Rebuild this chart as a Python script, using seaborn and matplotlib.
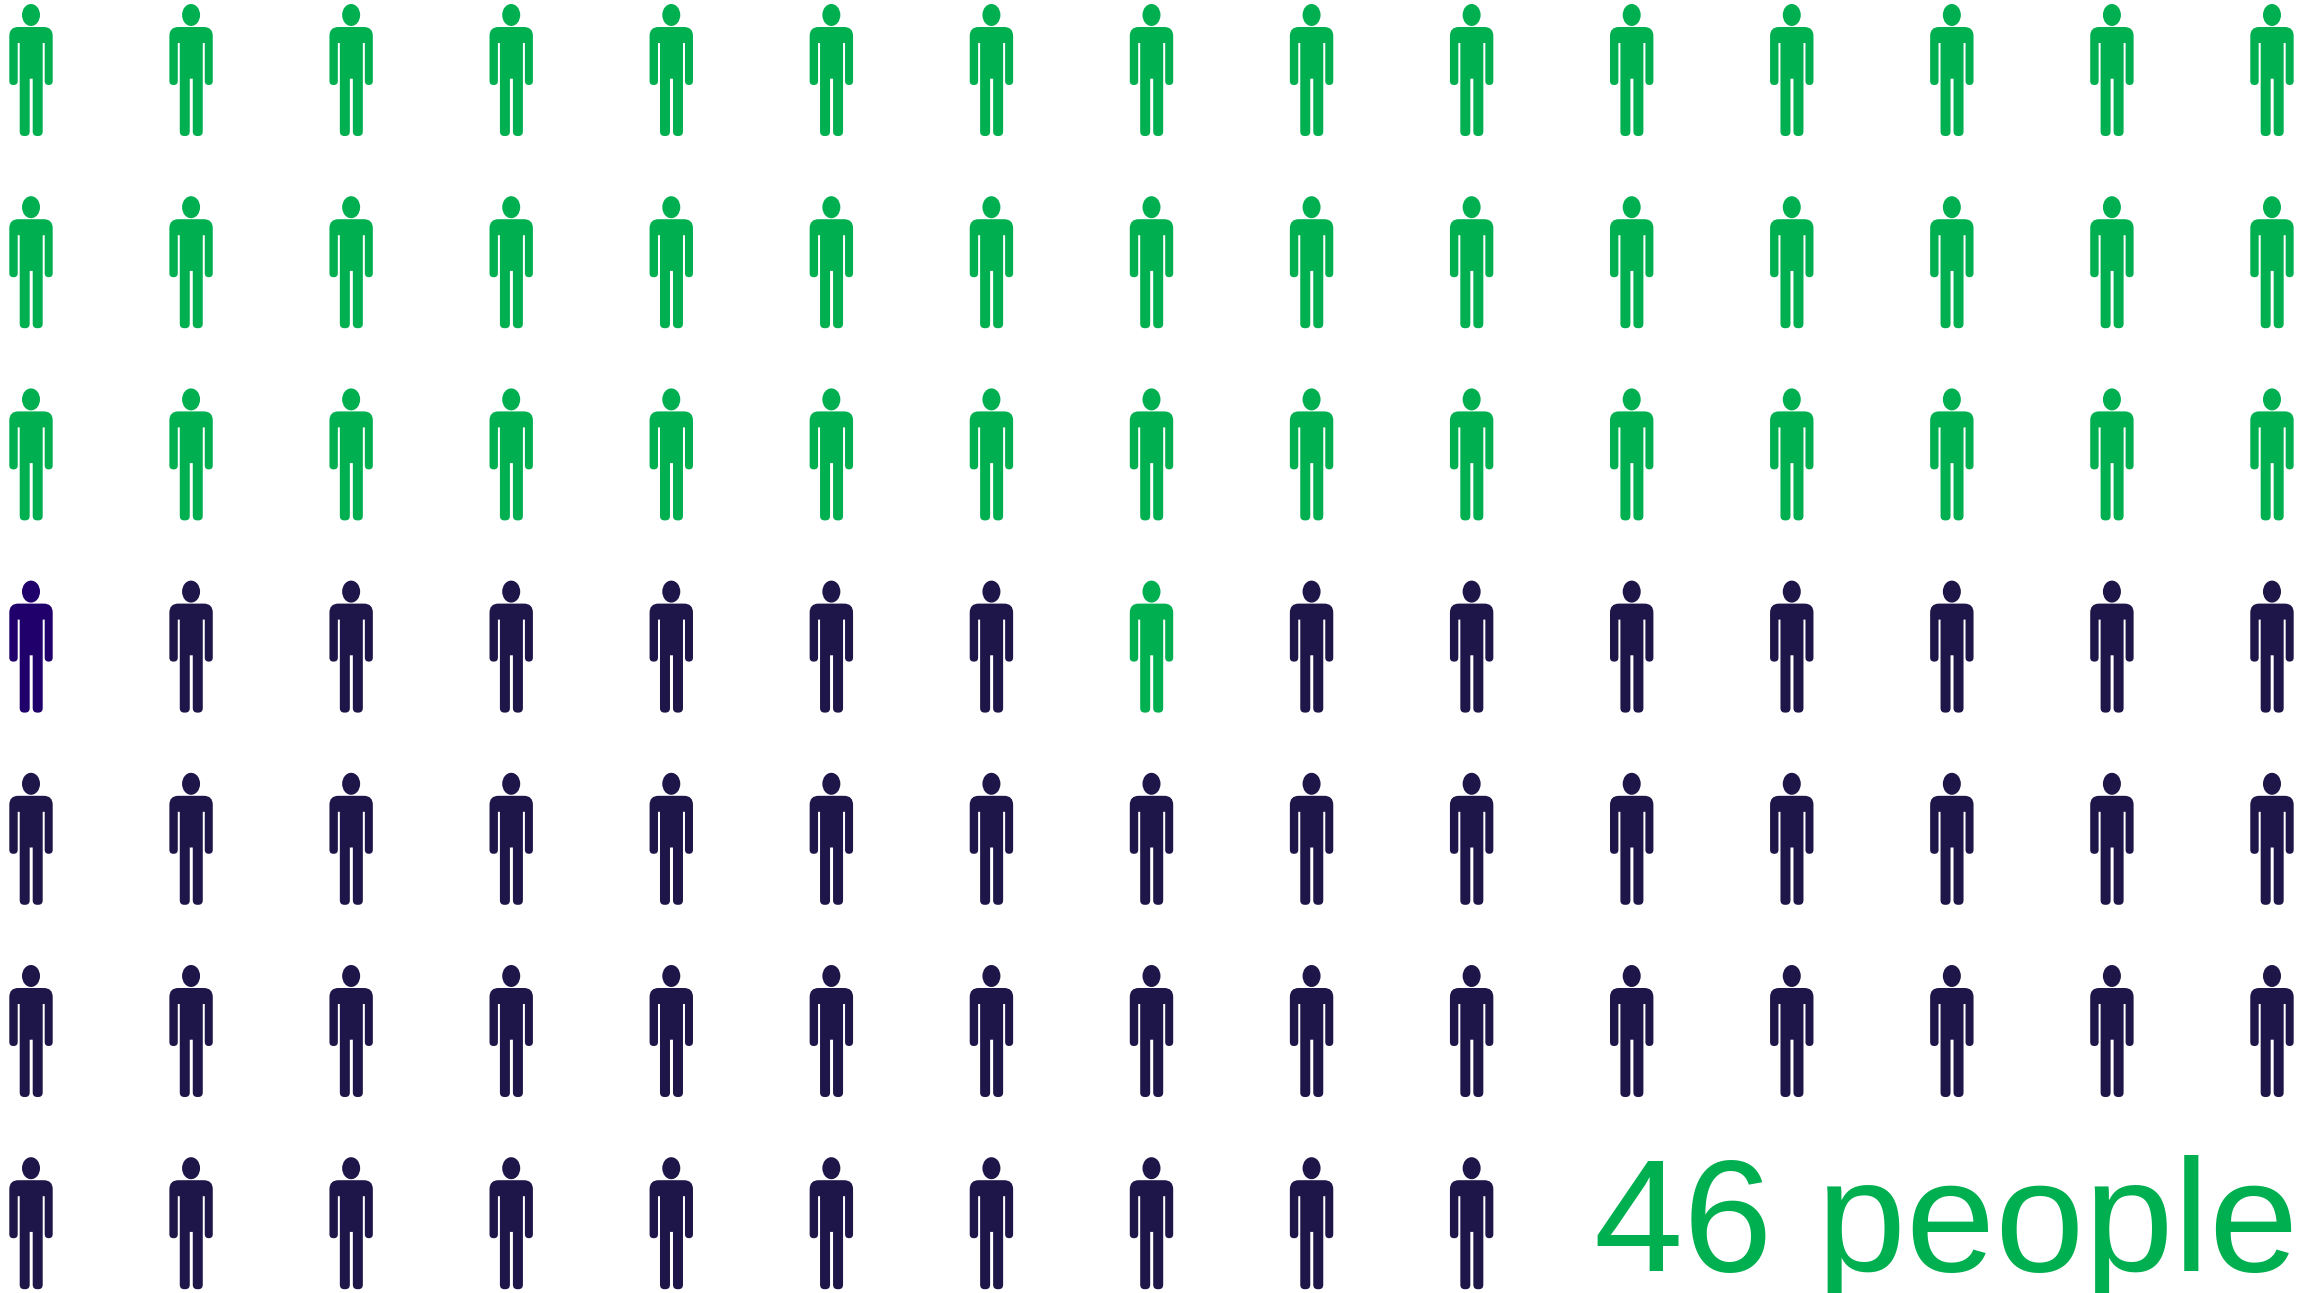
import numpy as np
import pandas as pd
import matplotlib
matplotlib.use("Agg")
import matplotlib.pyplot as plt
from matplotlib.path import Path
from matplotlib.transforms import Affine2D
import seaborn as sns

# data: group of each person, row by row (G = counted, N = others, H = highlighted)
row_1 = list("GGGGGGGGGGGGGGG")
row_2 = list("GGGGGGGGGGGGGGG")
row_3 = list("GGGGGGGGGGGGGGG")
row_4 = list("HNNNNNNGNNNNNNN")
row_5 = list("NNNNNNNNNNNNNNN")
row_6 = list("NNNNNNNNNNNNNNN")
row_7 = list("NNNNNNNNNN")
annotation = "46 people"

GROUP_COLORS = {"G": "#00B050", "N": "#1E1548", "H": "#20006B"}

W, H, DPI = 2320, 1293, 100
COL_STEP, ROW_STEP = 160.07, 192.2
X0, Y0 = 31.0, 70.0


def rounded(points):
    """Closed polygon with per-vertex corner radius: (x, y, r)."""
    n = len(points)
    verts, codes = [], []
    for i, (x, y, r) in enumerate(points):
        p = np.array([x, y], float)
        a = np.array(points[i - 1][:2], float)
        b = np.array(points[(i + 1) % n][:2], float)
        if r > 0:
            s = p + (a - p) / np.linalg.norm(a - p) * r
            e = p + (b - p) / np.linalg.norm(b - p) * r
            verts += [s, p, e]
            codes += [Path.LINETO, Path.CURVE3, Path.CURVE3]
        else:
            verts.append(p)
            codes.append(Path.LINETO)
    codes[0] = Path.MOVETO
    verts.append(verts[0])
    codes.append(Path.CLOSEPOLY)
    return Path(np.array(verts), codes)


# person glyph in pixels, relative to the glyph's centre (y pointing up)
body_px = [
    (9.3, 27, 9), (52.7, 27, 9),
    (52.7, 85, 4), (44.7, 85, 4), (44.7, 43, 0),
    (42.7, 43, 0), (42.7, 136, 4.5), (32.7, 136, 4.5), (32.7, 78.7, 0),
    (29.7, 78.7, 0), (29.7, 136, 4.5), (19.7, 136, 4.5), (19.7, 43, 0),
    (17.7, 43, 0), (17.7, 85, 4), (9.3, 85, 4),
]
body = rounded([(x - 31, 70 - y, r) for x, y, r in body_px])
head = Path.unit_circle().transformed(Affine2D().scale(9, 11).translate(0, 70 - 15))
person = Path.make_compound_path(head, body)
half_extent_px = np.abs(person.vertices).max()
person_s = (2 * half_extent_px * 72 / DPI) ** 2

rows = [row_1, row_2, row_3, row_4, row_5, row_6, row_7]
df = pd.DataFrame(
    [(c, r, g) for r, row in enumerate(rows) for c, g in enumerate(row)],
    columns=["col", "row", "group"],
)

sns.set_theme(style="white")
plt.rcParams["font.family"] = ["Liberation Sans", "DejaVu Sans"]

fig = plt.figure(figsize=(W / DPI, H / DPI), dpi=DPI, facecolor="white")
ax = fig.add_axes([0, 0, 1, 1])
sns.scatterplot(
    data=df, x="col", y="row", hue="group", palette=GROUP_COLORS,
    marker=person, s=person_s, linewidth=0, edgecolor="none",
    legend=False, ax=ax, clip_on=False,
)
ax.set_xlim(-X0 / COL_STEP, (W - X0) / COL_STEP)
ax.set_ylim((H - Y0) / ROW_STEP, -Y0 / ROW_STEP)
ax.axis("off")

ax.text(
    (1594 - X0) / COL_STEP, (1271 - Y0) / ROW_STEP, annotation,
    color=GROUP_COLORS["G"], fontsize=160.4 * 72 / DPI, ha="left", va="baseline",
)

fig.savefig("out.png", dpi=DPI, facecolor="white")
